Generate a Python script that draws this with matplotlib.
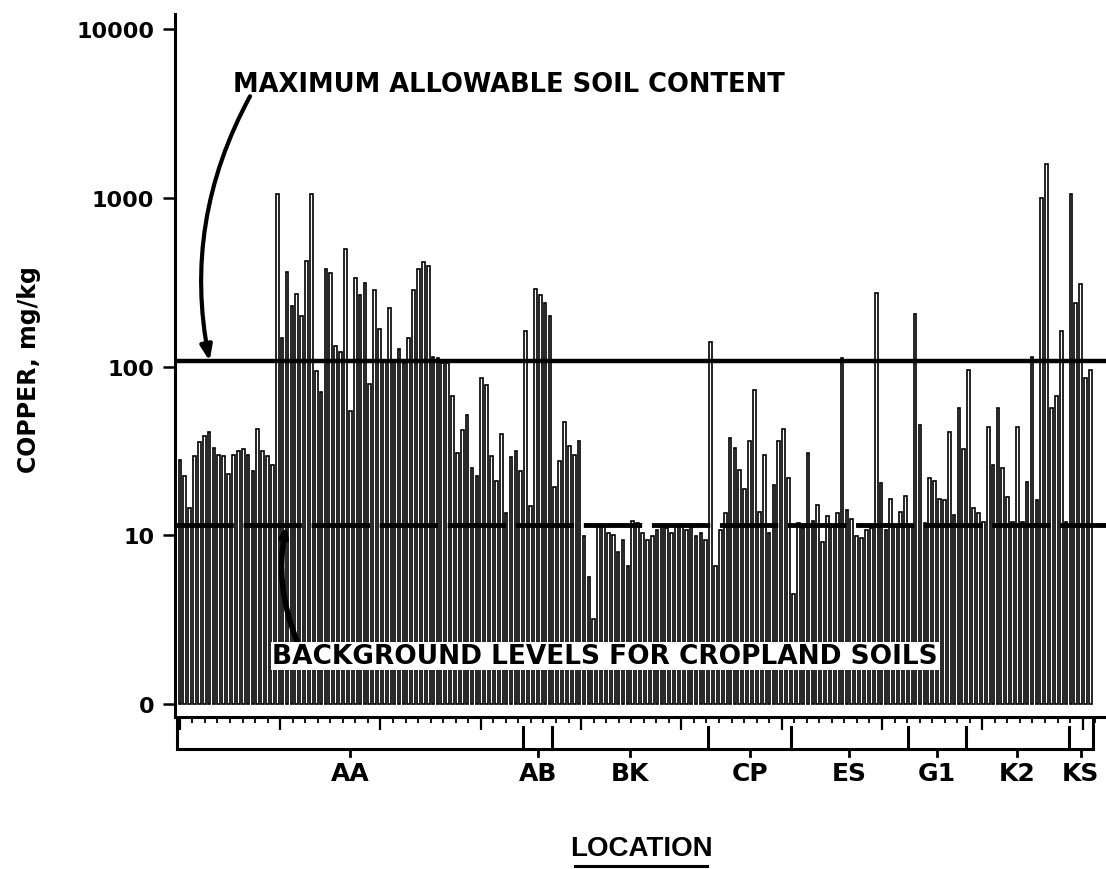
import numpy as np
import matplotlib
matplotlib.use('Agg')
import matplotlib.pyplot as plt
import matplotlib.transforms as mtransforms
from matplotlib.ticker import FixedLocator, MultipleLocator, NullFormatter
from matplotlib.lines import Line2D

# copper (mg/kg) per soil sample, left to right within each location
aa_values = [28, 22.5, 14.6, 29.5, 36, 39, 41, 33, 30, 29.5, 23, 30, 31.6, 32.5, 30, 24, 43, 31.6, 29.5, 26,
             1050, 148, 365, 230, 270, 200, 425, 1060, 94, 71, 380, 360, 133, 123, 495, 55, 335, 265, 315, 79,
             283, 167, 110, 222, 110, 127, 105, 148, 283, 380, 420, 395, 114, 112, 105, 105, 67, 31, 42, 52,
             25, 22.5, 86, 78, 29.5, 21, 40, 13.5, 29, 31.6, 24]
ab_values = [163, 15, 290, 265, 240, 200]
bk_values = [19.4, 27.5, 47, 34, 30, 36.5, 9.9, 5.7, 3.2, 11.4, 11.4, 10.3, 10, 8, 9.4, 6.6,
             12.2, 11.9, 10.3, 9.4, 9.9, 10.8, 11.4, 11.1, 10.3, 11.4, 11.6, 10.8, 11.4, 9.9, 10.3, 9.4]
cp_values = [140, 6.6, 10.8, 13.5, 37.6, 33, 24.5, 18.9, 36.5, 73, 13.8, 30, 10.3, 20, 36.5, 42.5, 22]
es_values = [4.5, 11.9, 11.1, 31, 12.2, 15.2, 9.1, 13.1, 11.4, 13.5, 113, 14.2, 12.6, 9.9, 9.6, 10.8,
             11.1, 272, 20.5, 10.8, 16.5, 11.4, 13.8, 17.2]
g1_values = [11.4, 205, 45, 11.9, 22, 21, 16.5, 16.3, 41, 13.3, 57, 32.5]
k2_values = [96, 14.6, 13.6, 12, 44, 26, 57, 25, 17, 12, 44, 12, 20.8, 114, 16.3, 1000, 1580, 57, 67, 163, 12]
ks_values = [1060, 240, 310, 86, 96]

locations = ['AA', 'AB', 'BK', 'CP', 'ES', 'G1', 'K2', 'KS']
location_values = [aa_values, ab_values, bk_values, cp_values, es_values, g1_values, k2_values, ks_values]

y_ticks = [1, 10, 100, 1000, 10000]
y_tick_labels = ['0', '10', '100', '1000', '10000']

max_allowable = 108      # maximum allowable soil content
background_level = 11.5  # background levels for cropland soils
base = 1                 # plotted as "0"

plt.rcParams['font.family'] = ['DejaVu Sans']
plt.rcParams['font.weight'] = 'bold'

values = np.concatenate([np.array(v, dtype=float) for v in location_values])
counts = [len(v) for v in location_values]
n = len(values)
x = np.arange(n)
edges = np.concatenate([[0], np.cumsum(counts)]) - 0.5

fig = plt.figure(figsize=(11.06, 8.70), dpi=100)
ax = fig.add_axes([175 / 1106, 152 / 870, 931 / 1106, 703 / 870])

ax.bar(x, values - base, bottom=base, width=0.55, facecolor='white',
       edgecolor='black', linewidth=1.2, zorder=2)

ax.set_yscale('log')
ax.set_ylim(0.84, 12300)
ax.set_xlim(-1.0, n + 2.2)

ax.axhline(max_allowable, color='black', lw=3.2, zorder=3)
ax.axhline(background_level, color='black', lw=3.5, dashes=(12, 2), zorder=3)

# y axis
ax.yaxis.set_major_locator(FixedLocator(y_ticks))
ax.yaxis.set_minor_locator(FixedLocator([]))
ax.set_yticklabels(y_tick_labels, fontsize=16, fontweight='bold')
ax.tick_params(axis='y', which='major', direction='out', length=9, width=1.8, pad=6)

# x axis: small sample ticks, no labels
ax.xaxis.set_major_locator(MultipleLocator(20.6))
ax.xaxis.set_minor_locator(MultipleLocator(20.6 / 8))
ax.xaxis.set_major_formatter(NullFormatter())
ax.tick_params(axis='x', which='major', direction='out', length=9, width=1.6)
ax.tick_params(axis='x', which='minor', direction='out', length=4, width=1.3)

for side in ['top', 'right']:
    ax.spines[side].set_visible(False)
for side in ['left', 'bottom']:
    ax.spines[side].set_linewidth(2.2)

# location bracket under the axis
tr = mtransforms.blended_transform_factory(ax.transData, ax.transAxes)
px = 1 / 703
y_br = -32 * px
for i, e in enumerate(edges):
    top = 0 if i in (0, len(edges) - 1) else -10 * px
    ax.add_line(Line2D([e, e], [top, y_br], transform=tr, color='black', lw=2.2, clip_on=False))
ax.add_line(Line2D([edges[0], edges[-1]], [y_br, y_br], transform=tr, color='black', lw=2.2, clip_on=False))
for name, lo, hi in zip(locations, edges[:-1], edges[1:]):
    mid = (lo + hi) / 2
    ax.add_line(Line2D([mid, mid], [y_br, y_br - 7 * px], transform=tr, color='black', lw=2, clip_on=False))
    ax.text(mid, y_br - 24 * px, name, transform=tr, ha='center', va='center',
            fontsize=18, fontweight='bold')

# annotations
ax.text(0.062, 0.900, 'MAXIMUM ALLOWABLE SOIL CONTENT', transform=ax.transAxes,
        ha='left', va='center', fontsize=18.5, fontweight='bold')
ax.annotate('', xy=(6.1, max_allowable), xycoords='data',
            xytext=(0.0806, 0.883), textcoords='axes fraction',
            arrowprops=dict(arrowstyle='-|>,head_length=0.9,head_width=0.35', lw=3,
                            color='black', connectionstyle='arc3,rad=0.18', shrinkA=0, shrinkB=0),
            zorder=4)

ax.text(0.104, 0.087, 'BACKGROUND LEVELS FOR CROPLAND SOILS', transform=ax.transAxes,
        ha='left', va='center', fontsize=19, fontweight='bold', zorder=5,
        bbox=dict(facecolor='white', edgecolor='none', pad=1))
ax.annotate('', xy=(21.9, background_level), xycoords='data',
            xytext=(0.131, 0.108), textcoords='axes fraction',
            arrowprops=dict(arrowstyle='-|>,head_length=0.5,head_width=0.2', lw=4,
                            color='black', connectionstyle='arc3,rad=-0.15', shrinkA=0, shrinkB=0),
            zorder=4)

fig.text(0.026, 1 - 370 / 870, 'COPPER, mg/kg', rotation=90, ha='center', va='center',
         fontsize=17, fontweight='bold')
fig.text(641 / 1106, 1 - 849 / 870, 'LOCATION', ha='center', va='center',
         fontsize=20, fontweight='bold', family='Liberation Sans')
fig.add_artist(Line2D([575 / 1106, 707 / 1106], [1 - 867 / 870, 1 - 867 / 870],
                      transform=fig.transFigure, color='black', lw=2.2))

fig.savefig('out.png', dpi=100)
